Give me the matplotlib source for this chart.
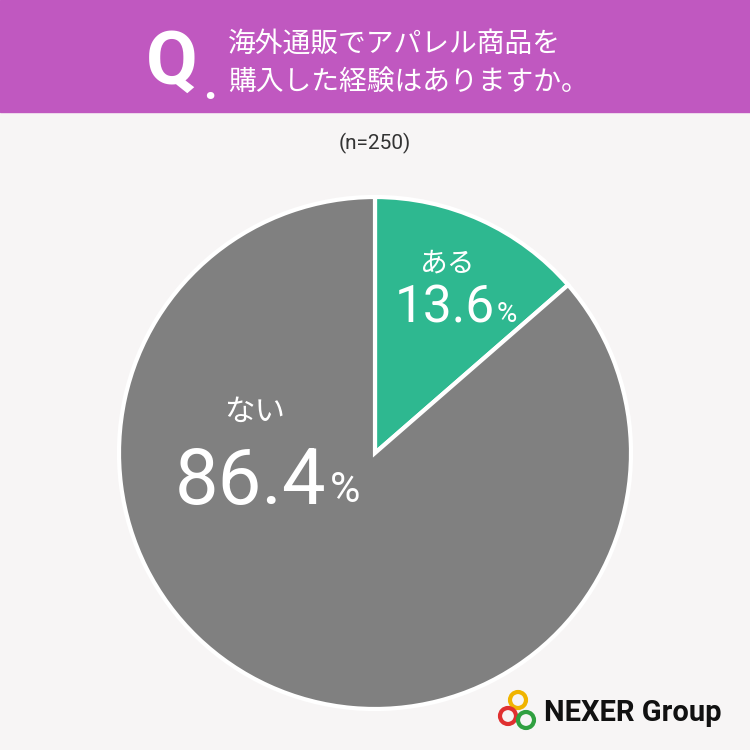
import matplotlib.pyplot as plt
from matplotlib.patches import Circle, Rectangle

plt.rcParams['font.family'] = ['Noto Sans CJK JP', 'DejaVu Sans']

labels = ['ある', 'ない']
values = [13.6, 86.4]
colors = ['#2eb890', '#808080']

fig = plt.figure(figsize=(7.5, 7.5), dpi=100)
fig.patch.set_facecolor('#f7f5f5')

# header
hdr = fig.add_axes([0, 0, 1, 1], zorder=0)
hdr.set_xlim(0, 750); hdr.set_ylim(750, 0); hdr.axis('off')
hdr.add_patch(Rectangle((0, 0), 750, 112, color='#c058c0'))
hdr.text(172, 64, 'Q', color='white', fontsize=54, fontweight='bold', ha='center', va='center', family='Roboto')
hdr.text(210, 86, '.', color='white', fontsize=34, fontweight='bold', ha='center', va='center', family='Roboto')
hdr.text(228, 44, '海外通販でアパレル商品を', color='white', fontsize=20, va='center')
hdr.text(228, 82, '購入した経験はありますか。', color='white', fontsize=20, va='center')
hdr.text(375, 143, '(n=250)', color='#333333', fontsize=15, ha='center', va='center', family='Roboto')

# logo
for (cx, cy, c) in [(518, 700, '#f0b400'), (508, 716, '#e03030'), (526, 720, '#30a040')]:
    hdr.add_patch(Circle((cx, cy), 8, fill=False, ec=c, lw=3))
hdr.text(544, 713, 'NEXER Group', fontsize=21, fontweight='bold', va='center', color='#111111', family='Roboto')

ax = fig.add_axes([(375 - 256) / 750, (750 - 453 - 256) / 750, 512 / 750, 512 / 750], zorder=1)
ax.pie(values, colors=colors, startangle=90, counterclock=False,
       wedgeprops=dict(edgecolor='white', linewidth=3))
ax.set_xlim(-1, 1); ax.set_ylim(-1, 1)

num = 'Roboto'
fig.text(448 / 750, 1 - 264 / 750, labels[0], color='white', fontsize=20, ha='center', va='center')
fig.text(495 / 750, 1 - 308 / 750, '13.6', color='white', fontsize=37, ha='right', va='center', family=num)
fig.text(497 / 750, 1 - 314 / 750, '%', color='white', fontsize=20, ha='left', va='center', family=num)
fig.text(255 / 750, 1 - 412 / 750, labels[1], color='white', fontsize=22, ha='center', va='center')
fig.text(326 / 750, 1 - 482 / 750, '86.4', color='white', fontsize=56, ha='right', va='center', family=num)
fig.text(330 / 750, 1 - 490 / 750, '%', color='white', fontsize=30, ha='left', va='center', family=num)

fig.savefig('out.png', dpi=100, facecolor=fig.get_facecolor())
